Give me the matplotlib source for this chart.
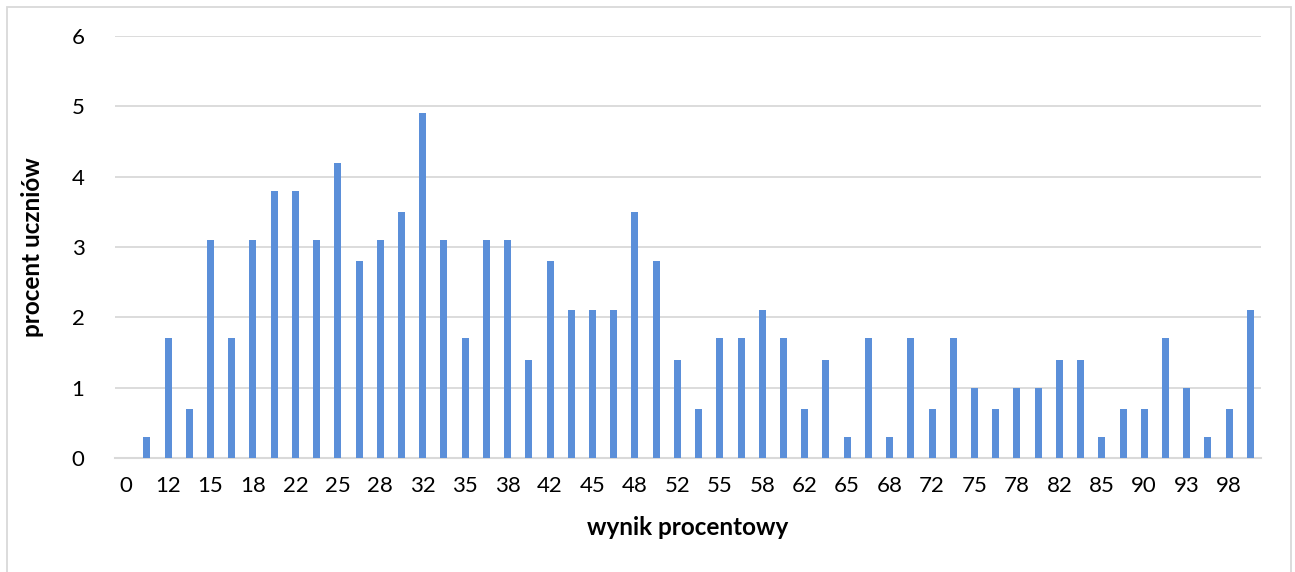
import matplotlib
matplotlib.use("Agg")
from matplotlib import pyplot as plt
from matplotlib.patches import Rectangle
import numpy as np

# score categories (percent) and share of students
categories = ["0", "10", "12", "13", "15", "17", "18", "20", "22", "23",
              "25", "27", "28", "30", "32", "33", "35", "37", "38", "40",
              "42", "43", "45", "47", "48", "50", "52", "53", "55", "57",
              "58", "60", "62", "63", "65", "67", "68", "70", "72", "73",
              "75", "77", "78", "80", "82", "83", "85", "88", "90", "92",
              "93", "97", "98", "100"]
values = [0.0, 0.3, 1.7, 0.7, 3.1, 1.7, 3.1, 3.8, 3.8, 3.1,
          4.2, 2.8, 3.1, 3.5, 4.9, 3.1, 1.7, 3.1, 3.1, 1.4,
          2.8, 2.1, 2.1, 2.1, 3.5, 2.8, 1.4, 0.7, 1.7, 1.7,
          2.1, 1.7, 0.7, 1.4, 0.3, 1.7, 0.3, 1.7, 0.7, 1.7,
          1.0, 0.7, 1.0, 1.0, 1.4, 1.4, 0.3, 0.7, 0.7, 1.7,
          1.0, 0.3, 0.7, 2.1]

plt.rcParams['font.family'] = ['Lato', 'DejaVu Sans']

fig = plt.figure(figsize=(12.95, 5.72), dpi=100)
ax = fig.add_axes([0.0888, 0.1993, 0.8849, 0.7377])

x = np.arange(len(categories))
ax.bar(x, values, width=0.33, color="#5B8FD9", zorder=3)

ax.set_xlim(-0.5, len(categories) - 0.5)
ax.set_ylim(0, 6)
ax.set_yticks(range(0, 7))
ax.set_xticks(x[::2])
ax.set_xticklabels(categories[::2])
ax.tick_params(axis="both", length=0, labelsize=16, colors="black")
ax.tick_params(axis="x", pad=13)
ax.tick_params(axis="y", pad=22)

ax.grid(axis="y", color="#D9D9D9", linewidth=1.3, zorder=0)
for s in ["top", "right", "left"]:
    ax.spines[s].set_visible(False)
ax.spines["bottom"].set_color("#D9D9D9")
ax.spines["bottom"].set_linewidth(1.5)

ax.set_xlabel("wynik procentowy", fontsize=17.5, fontweight="bold", labelpad=14)
ax.set_ylabel("procent uczniów", fontsize=17.5, fontweight="bold", labelpad=20)

# chart border
fig.patches.append(Rectangle((7 / 1295, -0.02), 1284 / 1295, 1 - 7 / 572 + 0.02,
                             transform=fig.transFigure, fill=False,
                             edgecolor="#D9D9D9", linewidth=1.3))

fig.savefig("out.png", dpi=100)
